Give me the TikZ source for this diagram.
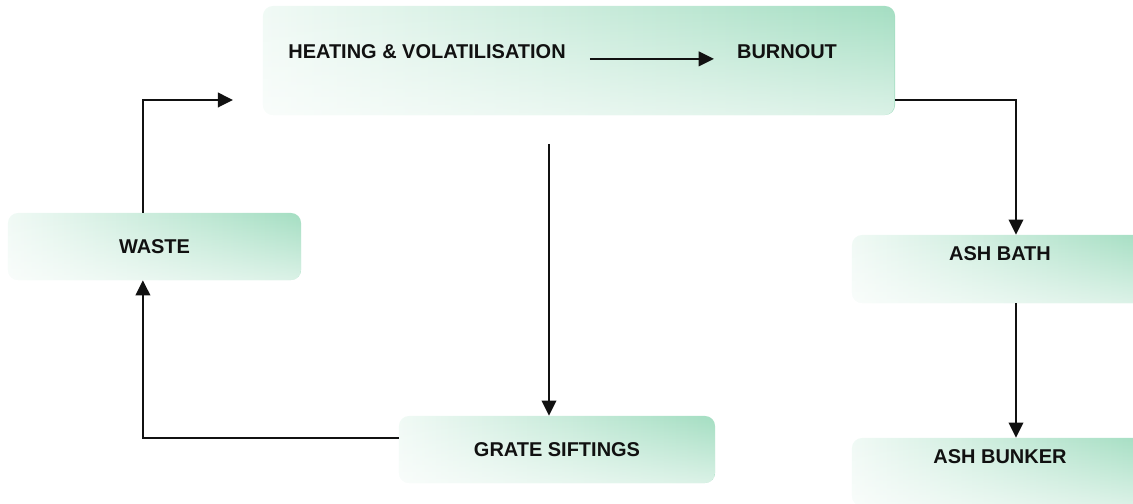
\documentclass[tikz,border=0pt]{standalone}
\usepackage{fontspec}
\setmainfont{Liberation Sans}
\usetikzlibrary{arrows.meta,positioning,calc,fadings}
\definecolor{mint}{RGB}{164,222,194}
\definecolor{ink}{HTML}{111111}
\tikzfading[name=fadeup, bottom color=transparent!40, top color=transparent!100]

\begin{document}
\begin{tikzpicture}[x=0.025cm, y=-0.025cm,
      box/.style={left color=mint!16, middle color=mint!58, right color=mint, rounded corners=0.25cm,
                  align=center, text=ink, font=\fontsize{14.2}{17}\selectfont\bfseries,
                  minimum height=1.675cm,
                  path picture={\fill[white, path fading=fadeup]
                    (path picture bounding box.south west) rectangle (path picture bounding box.north east);}},
      lbl/.style={inner sep=0pt, text=ink, font=\fontsize{14.2}{17}\selectfont\bfseries},
      arr/.style={-{Triangle[length=0.38cm, width=0.37cm]}, line width=1.1pt, ink}]
    \clip (0,0) rectangle (1133,504);
    \node[box, minimum width=15.8cm, minimum height=2.725cm] (stage) at (579,60.5) {};
    \node[lbl] (heat) at (427,52) {HEATING \& VOLATILISATION};
    \node[lbl] (burn) at (787,52) {BURNOUT};
    \node[box, minimum width=7.325cm] (waste) at (154.5,246.5) {WASTE};
    \node[box, minimum width=7.9cm] (grate) at (557,449.5) {GRATE SIFTINGS};
    \node[box, minimum width=7.4cm, minimum height=1.7cm] (bath) at (1000,269) {ASH BATH\\\strut};
    \node[box, minimum width=7.4cm, minimum height=1.7cm] (bunker) at (1000,472) {ASH BUNKER\\\strut};
    \coordinate (feed) at (233,100);
    \coordinate (fall) at (549,144);
    \draw[arr, shorten <=0.6cm, shorten >=0.575cm] (heat.base east) -- (burn.base west);
    \draw[arr] ([xshift=-0.29cm]waste.north) |- (feed);
    \draw[arr] (stage.east |- feed) -| ([xshift=0.4cm]bath.north);
    \draw[arr] ([xshift=0.4cm]bath.south) -- ([xshift=0.4cm]bunker.north);
    \draw[arr] (fall) -- (fall |- grate.north);
    \draw[arr] ([yshift=0.29cm]grate.west) -| ([xshift=-0.29cm]waste.south);
\end{tikzpicture}
\end{document}
